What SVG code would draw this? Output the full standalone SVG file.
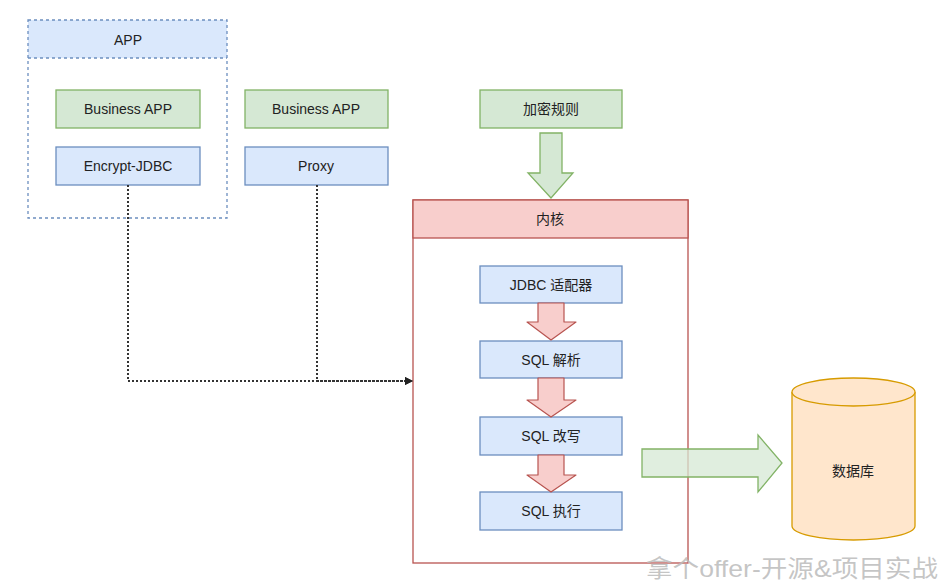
<svg xmlns="http://www.w3.org/2000/svg" width="942" height="586" viewBox="0 0 942 586">
<style>
text{font-family:"Liberation Sans","Noto Sans CJK SC",sans-serif;font-size:14px;fill:#222;text-anchor:middle;dominant-baseline:central}
.blue{fill:#dae8fc;stroke:#6c8ebf;stroke-width:1.3}
.green{fill:#d5e8d4;stroke:#82b366;stroke-width:1.3}
.red{fill:#f8cecc;stroke:#b85450;stroke-width:1.3}
.redarrow{fill:#f8cecc;stroke:#b85450;stroke-width:1.2;stroke-linejoin:round}
.dash{fill:none;stroke:#6c8ebf;stroke-width:1.3;stroke-dasharray:3 3}
.conn{fill:none;stroke:#333;stroke-width:2;stroke-dasharray:2 2}
</style>
<defs>
<marker id="ah" markerWidth="8" markerHeight="8" refX="7" refY="4" orient="auto" markerUnits="userSpaceOnUse">
<path d="M0,0 L8,4 L0,8 Z" fill="#222"/>
</marker>
</defs>
<rect width="942" height="586" fill="#fff"/>

<g id="app">
<rect x="28" y="20" width="199" height="38" fill="#dae8fc"/>
<rect x="28" y="20" width="199" height="198" class="dash"/>
<line x1="28" y1="58" x2="227" y2="58" class="dash"/>
<text x="128" y="40">APP</text>
</g>
<g id="business-app-1">
<rect x="56" y="90" width="144" height="38" class="green"/>
<text x="128" y="109">Business APP</text>
</g>
<g id="encrypt-jdbc">
<rect x="56" y="147" width="144" height="38" class="blue"/>
<text x="128" y="166">Encrypt-JDBC</text>
</g>
<g id="business-app-2">
<rect x="245" y="90" width="143" height="38" class="green"/>
<text x="316" y="109">Business APP</text>
</g>
<g id="proxy">
<rect x="245" y="147" width="143" height="38" class="blue"/>
<text x="316" y="166">Proxy</text>
</g>
<g id="rules">
<rect x="480" y="90" width="142" height="38" class="green"/>
<text x="551" y="109">加密规则</text>
</g>

<g id="kernel">
<rect x="413" y="200" width="275" height="363" fill="#fff" stroke="#b85450" stroke-width="1.3"/>
<rect x="413" y="200" width="275" height="38" class="red"/>
<text x="550" y="219">内核</text>
</g>
<g id="jdbc-adapter">
<rect x="480" y="266" width="142" height="37" class="blue"/>
<text x="551" y="285">JDBC 适配器</text>
</g>
<g id="sql-parse">
<rect x="480" y="341" width="142" height="37" class="blue"/>
<text x="551" y="360">SQL 解析</text>
</g>
<g id="sql-rewrite">
<rect x="480" y="417" width="142" height="38" class="blue"/>
<text x="551" y="436">SQL 改写</text>
</g>
<g id="sql-exec">
<rect x="480" y="492" width="142" height="38" class="blue"/>
<text x="551" y="511">SQL 执行</text>
</g>

<g id="database">
<path d="M792,392 L792,526 A61.5,14 0 0 0 915,526 L915,392" fill="#ffe6cc" stroke="#d79b00" stroke-width="1.3"/>
<ellipse cx="853.5" cy="392" rx="61.5" ry="14" fill="#ffe6cc" stroke="#d79b00" stroke-width="1.3"/>
<text x="853" y="471">数据库</text>
</g>

<g id="connectors">
<path d="M540,133 L562,133 L562,173 L573,173 L551,198 L528,173 L540,173 Z" class="green"/>
<path d="M538,303 L564,303 L564,322 L576,322 L551,340 L527,322 L538,322 Z" class="redarrow"/>
<path d="M538,378 L564,378 L564,400 L576,400 L551,417 L527,400 L538,400 Z" class="redarrow"/>
<path d="M538,455 L564,455 L564,475 L576,475 L551,492 L527,475 L538,475 Z" class="redarrow"/>
<path d="M642,449 L758,449 L758,435 L782,463 L758,492 L758,477 L642,477 Z" class="green" fill-opacity="0.75"/>
<path d="M128,185 L128,381 L412,381" class="conn" marker-end="url(#ah)"/>
<path d="M317,185 L317,381 L412,381" class="conn" marker-end="url(#ah)"/>
</g>

<text x="792" y="568" textLength="292" lengthAdjust="spacingAndGlyphs" style="font-size:24px;fill:#bbb;fill-opacity:0.85">拿个offer-开源&amp;项目实战</text>
</svg>
